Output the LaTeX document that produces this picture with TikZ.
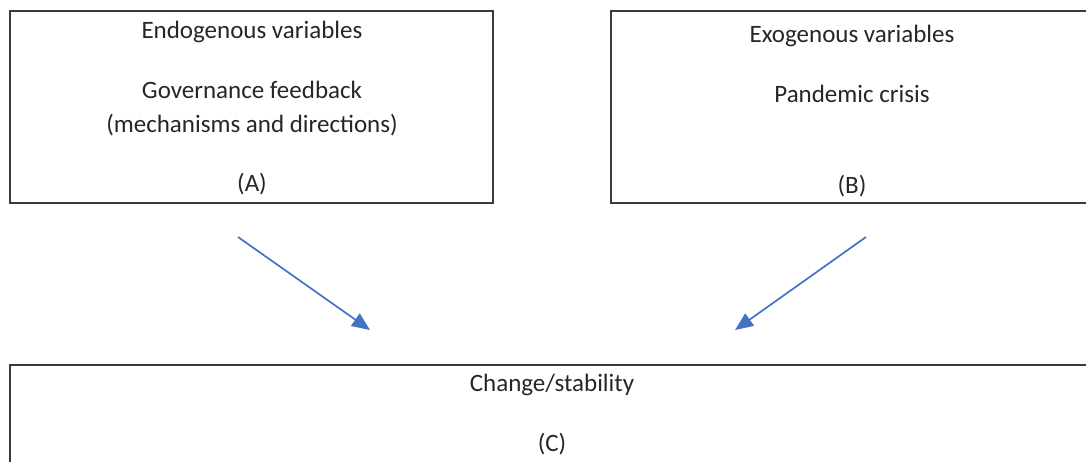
\documentclass[tikz,border=0pt]{standalone}
\usepackage{fontspec}
\setmainfont{Carlito}
\usetikzlibrary{arrows.meta}
\definecolor{arrowblue}{HTML}{4472C4}
\definecolor{boxline}{HTML}{3A3A3A}
\tikzset{
  varbox/.style={draw=boxline, line width=0.65pt, rectangle, inner sep=0pt},
  label/.style={anchor=base, font=\fontsize{12.5}{15}\selectfont, text=black!85},
  effect/.style={draw=arrowblue, line width=0.85pt, -{Triangle[length=9pt,width=7.5pt]}}
}
\begin{document}
  \begin{tikzpicture}[x=0.5pt,y=-0.5pt]
    \useasboundingbox (0,0) rectangle (1086,461);
    \clip (0,0) rectangle (1086,461);

    % boxes
    \node [varbox, minimum width=241.5pt, minimum height=96pt] (endo) at (251.5,107) {};
    \node [varbox, minimum width=241.5pt, minimum height=96pt] (exo) at (852.5,107) {};
    \node [varbox, minimum width=542pt, minimum height=52.5pt] (result) at (552,417.5) {};

    % texts
    \node [label] (endotitle) at (252,38) {Endogenous variables};
    \node [label] (endoname) at (252,98) {Governance feedback};
    \node [label] (endosub) at (252,132) {(mechanisms and directions)};
    \node [label] (endotag) at (252,191) {(A)};

    \node [label] (exotitle) at (852,42) {Exogenous variables};
    \node [label] (exoname) at (852,102) {Pandemic crisis};
    \node [label] (exotag) at (852,193) {(B)};

    \node [label] (resulttitle) at (552,391) {Change/stability};
    \node [label] (resulttag) at (552,451) {(C)};

    % arrows
    \coordinate (endofrom) at (238,237);
    \coordinate (endoto) at (370,330);
    \coordinate (exofrom) at (866,237);
    \coordinate (exoto) at (735,330);
    \draw [effect] (endofrom) -- (endoto);
    \draw [effect] (exofrom) -- (exoto);

  \end{tikzpicture}
\end{document}
